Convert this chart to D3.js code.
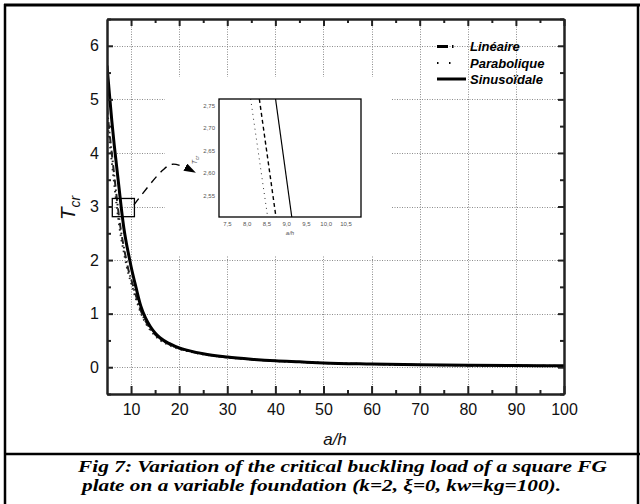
<!DOCTYPE html>
<html><head><meta charset="utf-8">
<script src="https://cdn.jsdelivr.net/npm/d3@7"></script>
<style>body{margin:0;background:#fff}svg{display:block}</style>
</head><body>
<svg id="c" width="640" height="504"></svg>
<script>
// ---- data ----
const aH = [5,5.5,6,6.5,7,7.5,8,8.5,9,9.5,10,11,12,13,14,15,16,18,20,22,25,30,35,40,45,50,60,70,80,90,100];
const sinusoidale = [5.63,5.1,4.6,4.15,3.75,3.35,2.95,2.6,2.33,2.1,1.88,1.5,1.15,0.92,0.76,0.64,0.55,0.44,0.36,0.31,0.25,0.19,0.15,0.12,0.10,0.08,0.06,0.045,0.035,0.03,0.025];
const lineaire = [4.85,4.4,3.99,3.59,3.19,2.81,2.49,2.24,2.01,1.8,1.65,1.34,1.06,0.86,0.72,0.61,0.53,0.42,0.35,0.30,0.245,0.185,0.147,0.118,0.098,0.079,0.059,0.044,0.034,0.029,0.024];
const parabolique = [4.62,4.24,3.83,3.43,3.03,2.67,2.38,2.15,1.92,1.73,1.58,1.28,1.02,0.83,0.69,0.59,0.51,0.41,0.34,0.295,0.24,0.182,0.145,0.116,0.096,0.078,0.058,0.043,0.033,0.028,0.023];
const xTicks = [10,20,30,40,50,60,70,80,90,100];
const xMinor = [15,25,35,45,55,65,75,85,95];
const yTicks = [0,1,2,3,4,5,6];
const yMinor = [-0.5,0.5,1.5,2.5,3.5,4.5,5.5,6.5];
const xGrid = [10,20,30,40,50,60,70,80,90];
const yGrid = [0,1,2,3,4,5,6];
// inset (zoom) data
const insetT = [2.765, 2.503];
const insetSin = [8.72, 9.13];
const insetLin = [8.31, 8.73];
const insetPara = [8.09, 8.52];
const insetXTicks = [7.5,8.0,8.5,9.0,9.5,10.0,10.5];
const insetYTicks = [2.55,2.60,2.65,2.70,2.75];
const zoomBox = {x0:6.1, x1:10.7, y0:2.81, y1:3.15};
const arrowPts = [[10.6,3.03],[16.6,3.68],[18.7,3.79],[23.3,3.64]];
const legendItems = ["Linéaire","Parabolique","Sinusoïdale"];
const caption = ["Fig 7: Variation of the critical buckling load of a square FG",
                 "plate on a variable foundation (k=2, ξ=0, kw=kg=100)."];

const svg = d3.select("#c");
const SANS = "'Liberation Sans', Arial, sans-serif";
const SERIF = "'Liberation Serif', 'Times New Roman', serif";

svg.append("rect").attr("width",640).attr("height",504).attr("fill","#fff");

// outer frame
const frame = svg.append("g").attr("stroke","#000").attr("fill","none");
frame.append("line").attr("x1",4).attr("x2",640).attr("y1",5).attr("y2",5).attr("stroke-width",3);
frame.append("line").attr("x1",5).attr("x2",5).attr("y1",4).attr("y2",504).attr("stroke-width",2.5);
frame.append("line").attr("x1",638).attr("x2",638).attr("y1",4).attr("y2",504).attr("stroke-width",2.5);
frame.append("line").attr("x1",4).attr("x2",640).attr("y1",454).attr("y2",454).attr("stroke-width",2.5);

const L=107, R=564, T=19, B=394;
const x = d3.scaleLinear().domain([5,100]).range([L,R]);
const y = d3.scaleLinear().domain([-0.5,6.5]).range([B,T]);

// grid
const grid = svg.append("g").attr("class","grid");
xGrid.forEach(d=>{
  grid.append("line").attr("x1",Math.round(x(d))+0.5).attr("x2",Math.round(x(d))+0.5)
    .attr("y1",T).attr("y2",B)
    .attr("stroke","#8c8c8c").attr("stroke-width",1).attr("stroke-dasharray","1,1.5");
});
yGrid.forEach(d=>{
  grid.append("line").attr("x1",L).attr("x2",R)
    .attr("y1",Math.round(y(d))+0.5).attr("y2",Math.round(y(d))+0.5)
    .attr("stroke","#8c8c8c").attr("stroke-width",1).attr("stroke-dasharray","1,1.5");
});

// white area behind inset
svg.append("rect").attr("x",165).attr("y",77).attr("width",227).attr("height",178).attr("fill","#fff");

// curves
const line = d3.line().x(d=>x(d[0])).y(d=>y(d[1])).curve(d3.curveMonotoneX);
svg.append("clipPath").attr("id","pc").append("rect").attr("x",L).attr("y",T).attr("width",R-L).attr("height",B-T);
const curves = svg.append("g").attr("clip-path","url(#pc)").attr("fill","none").attr("stroke","#000");
curves.append("path").attr("d",line(aH.map((v,i)=>[v,parabolique[i]])))
  .attr("stroke-width",2).attr("stroke-dasharray","1.5,4").attr("stroke","#222");
curves.append("path").attr("d",line(aH.map((v,i)=>[v,lineaire[i]])))
  .attr("stroke-width",2).attr("stroke-dasharray","7,3,1.5,3").attr("stroke","#222");
curves.append("path").attr("d",line(aH.map((v,i)=>[v,sinusoidale[i]])))
  .attr("stroke-width",3);

// zoom box
svg.append("rect").attr("x",x(zoomBox.x0)).attr("y",y(zoomBox.y1))
  .attr("width",x(zoomBox.x1)-x(zoomBox.x0)).attr("height",y(zoomBox.y0)-y(zoomBox.y1))
  .attr("fill","none").attr("stroke","#000").attr("stroke-width",1.3);

// arrow
const defs = svg.append("defs");
defs.append("marker").attr("id","ah").attr("viewBox","0 0 12 8").attr("refX",11).attr("refY",4)
  .attr("markerWidth",12).attr("markerHeight",8).attr("markerUnits","userSpaceOnUse").attr("orient","auto")
  .append("path").attr("d","M0,0 L12,4 L0,8 Z").attr("fill","#000");
svg.append("path").attr("d",d3.line().x(d=>x(d[0])).y(d=>y(d[1])).curve(d3.curveCatmullRom)(arrowPts))
  .attr("fill","none").attr("stroke","#000").attr("stroke-width",1.4).attr("stroke-dasharray","8,6")
  .attr("marker-end","url(#ah)");

// axes
function styleAxis(g){
  g.select(".domain").attr("stroke","#222").attr("stroke-width",2);
  g.selectAll(".tick line").attr("stroke","#222").attr("stroke-width",2);
  g.selectAll("text").attr("font-family",SANS).attr("font-size",16).attr("fill","#111");
}
const fmt = d3.format("d");
svg.append("g").attr("transform",`translate(0,${B})`)
  .call(d3.axisBottom(x).tickValues(xTicks).tickFormat(fmt).tickSizeInner(-8).tickSizeOuter(0).tickPadding(10)).call(styleAxis);
svg.append("g").attr("transform",`translate(0,${B})`)
  .call(d3.axisBottom(x).tickValues(xMinor).tickFormat("").tickSizeInner(-4).tickSizeOuter(0)).call(styleAxis);
svg.append("g").attr("transform",`translate(0,${T})`)
  .call(d3.axisTop(x).tickValues(xTicks).tickFormat("").tickSizeInner(-7).tickSizeOuter(0)).call(styleAxis);
svg.append("g").attr("transform",`translate(0,${T})`)
  .call(d3.axisTop(x).tickValues(xMinor).tickFormat("").tickSizeInner(-4).tickSizeOuter(0)).call(styleAxis);
svg.append("g").attr("transform",`translate(${L},0)`)
  .call(d3.axisLeft(y).tickValues(yTicks).tickFormat(fmt).tickSizeInner(-6).tickSizeOuter(0).tickPadding(8)).call(styleAxis);
svg.append("g").attr("transform",`translate(${L},0)`)
  .call(d3.axisLeft(y).tickValues(yMinor).tickFormat("").tickSizeInner(-4).tickSizeOuter(0)).call(styleAxis);
svg.append("g").attr("transform",`translate(${R},0)`)
  .call(d3.axisRight(y).tickValues(yTicks).tickFormat("").tickSizeInner(-6).tickSizeOuter(0)).call(styleAxis);
svg.append("g").attr("transform",`translate(${R},0)`)
  .call(d3.axisRight(y).tickValues(yMinor).tickFormat("").tickSizeInner(-4).tickSizeOuter(0)).call(styleAxis);

// axis titles
svg.append("text").attr("x",335).attr("y",445).attr("text-anchor","middle")
  .attr("font-family",SANS).attr("font-style","italic").attr("font-size",17).attr("fill","#111").text("a/h");
const yt = svg.append("text").attr("transform","translate(75,208) rotate(-90)").attr("text-anchor","middle")
  .attr("font-family",SANS).attr("font-style","italic").attr("fill","#111");
yt.append("tspan").attr("font-size",21).text("T");
yt.append("tspan").attr("font-size",14).attr("dy",5).text("cr");

// legend
const lg = svg.append("g").attr("font-family",SANS).attr("font-style","italic").attr("font-weight","bold").attr("font-size",13);
const lgY = [46.5,63,79];
const dashes = ["11,4,1.5,30","1.5,10.5,1.5,30",null];
const widths = [3,2,3];
legendItems.forEach((t,i)=>{
  const l = lg.append("line").attr("x1",437).attr("x2",466).attr("y1",lgY[i]).attr("y2",lgY[i])
    .attr("stroke","#000").attr("stroke-width",widths[i]);
  if(dashes[i]) l.attr("stroke-dasharray",dashes[i]);
  lg.append("text").attr("x",470).attr("y",lgY[i]+4.5).attr("fill","#000").text(t);
});

// inset
const iL=219, iR=361, iT=99, iB=217;
const ix = d3.scaleLinear().domain([7.29,10.88]).range([iL,iR]);
const iy = d3.scaleLinear().domain([2.503,2.765]).range([iB,iT]);
const ins = svg.append("g");
ins.append("rect").attr("x",iL).attr("y",iT).attr("width",iR-iL).attr("height",iB-iT).attr("fill","#fff");
const iline = d3.line().x(d=>ix(d[0])).y(d=>iy(d[1]));
ins.append("path").attr("d",iline(insetPara.map((v,i)=>[v,insetT[i]]))).attr("fill","none")
  .attr("stroke","#333").attr("stroke-width",1).attr("stroke-dasharray","1,4");
ins.append("path").attr("d",iline(insetLin.map((v,i)=>[v,insetT[i]]))).attr("fill","none")
  .attr("stroke","#000").attr("stroke-width",1.4).attr("stroke-dasharray","4,3");
ins.append("path").attr("d",iline(insetSin.map((v,i)=>[v,insetT[i]]))).attr("fill","none")
  .attr("stroke","#000").attr("stroke-width",1.2);
ins.append("rect").attr("x",iL).attr("y",iT).attr("width",iR-iL).attr("height",iB-iT)
  .attr("fill","none").attr("stroke","#000").attr("stroke-width",1.3);
const cfmt1 = d => d3.format(".1f")(d).replace(".",",");
const cfmt2 = d => d3.format(".2f")(d).replace(".",",");
ins.selectAll(".ixl").data(insetXTicks).join("text")
  .attr("x",d=>ix(d)).attr("y",iB+9).attr("text-anchor","middle")
  .attr("font-family",SANS).attr("font-size",6).attr("fill","#555").text(cfmt1);
ins.selectAll(".iyl").data(insetYTicks).join("text")
  .attr("x",iL-4).attr("y",d=>iy(d)+2).attr("text-anchor","end")
  .attr("font-family",SANS).attr("font-size",6).attr("fill","#555").text(cfmt2);
ins.append("text").attr("x",290).attr("y",235).attr("text-anchor","middle")
  .attr("font-family",SANS).attr("font-style","italic").attr("font-size",6).attr("fill","#555").text("a/h");
const it = ins.append("text").attr("transform","translate(197,160) rotate(-90)").attr("text-anchor","middle")
  .attr("font-family",SANS).attr("font-style","italic").attr("fill","#555");
it.append("tspan").attr("font-size",7).text("T");
it.append("tspan").attr("font-size",5).attr("dy",1.5).text("cr");

// caption
const cap = svg.append("g").attr("font-family",SERIF).attr("font-style","italic").attr("font-weight","bold")
  .attr("font-size",17).attr("fill","#000");
cap.append("text").attr("x",78).attr("y",472).attr("textLength",529).attr("lengthAdjust","spacingAndGlyphs").text(caption[0]);
cap.append("text").attr("x",82).attr("y",491).attr("textLength",479).attr("lengthAdjust","spacingAndGlyphs").text(caption[1]);
</script>
</body></html>
